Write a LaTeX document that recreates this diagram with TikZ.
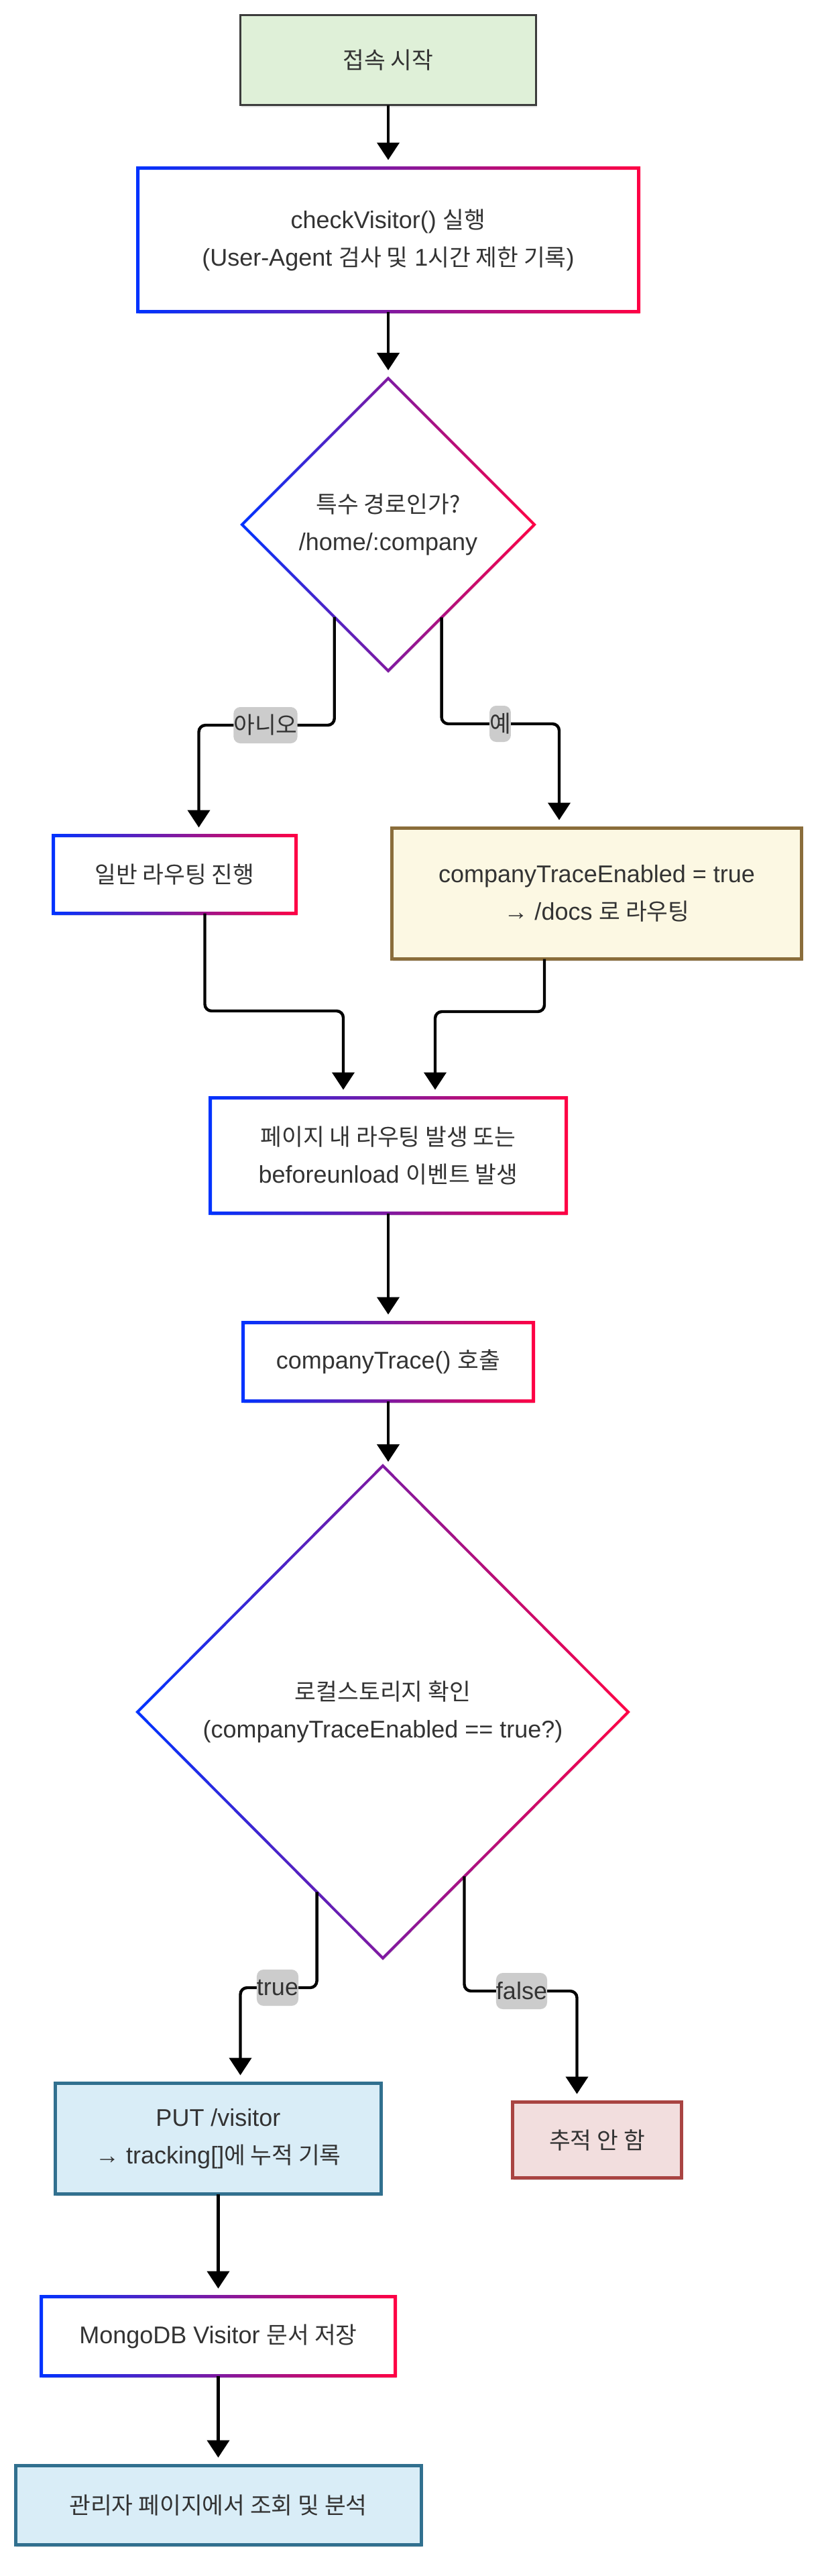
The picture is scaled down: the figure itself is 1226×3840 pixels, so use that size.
\documentclass[tikz,border=0pt]{standalone}
\usepackage{fontspec}
\setmainfont{Liberation Sans}
\newfontfamily\krf[Scale=0.96]{Noto Sans CJK KR}
\usetikzlibrary{arrows.meta,shapes.geometric,shadows,calc}
\definecolor{gblue}{HTML}{0033FF}
\definecolor{gred}{HTML}{FF0044}
\definecolor{textc}{HTML}{333333}
\definecolor{lblgray}{HTML}{CCCCCC}
\definecolor{startfill}{HTML}{DFF0D8}
\definecolor{startdraw}{HTML}{3C3C3C}
\definecolor{warnfill}{HTML}{FCF8E3}
\definecolor{warndraw}{HTML}{8A6D3B}
\definecolor{infofill}{HTML}{D9EDF7}
\definecolor{infodraw}{HTML}{31708F}
\definecolor{dangfill}{HTML}{F2DEDE}
\definecolor{dangdraw}{HTML}{A94442}
\newcommand\gradrect[1]{%
  \shade[even odd rule,left color=gblue,right color=gred]
  ([xshift=-1.25pt,yshift=-1.25pt]#1.south west) rectangle ([xshift=1.25pt,yshift=1.25pt]#1.north east)
  ([xshift=1.25pt,yshift=1.25pt]#1.south west) rectangle ([xshift=-1.25pt,yshift=-1.25pt]#1.north east);}
\newcommand\graddia[1]{%
  \shade[even odd rule,left color=gblue,right color=gred]
  ([yshift=1.41pt]#1.north) -- ([xshift=1.41pt]#1.east) -- ([yshift=-1.41pt]#1.south) -- ([xshift=-1.41pt]#1.west) -- cycle
  ([yshift=-1.41pt]#1.north) -- ([xshift=-1.41pt]#1.east) -- ([yshift=1.41pt]#1.south) -- ([xshift=1.41pt]#1.west) -- cycle;}
\begin{document}
\begin{tikzpicture}[x=0.5pt,y=-0.5pt,
  base/.style={rectangle,inner sep=0pt,outer sep=0pt,align=center,text=textc,
    font=\fontsize{18pt}{28pt}\selectfont,
    drop shadow={shadow xshift=0.5pt,shadow yshift=-1.5pt,fill=black,opacity=0.10}},
  gnode/.style={base,fill=white},
  gdia/.style={base,shape=diamond,fill=white},
  warnbox/.style={base,fill=warnfill,draw=warndraw,line width=2.5pt},
  infobox/.style={base,fill=infofill,draw=infodraw,line width=2.5pt},
  dangbox/.style={base,fill=dangfill,draw=dangdraw,line width=2.5pt},
  startbox/.style={base,fill=startfill,draw=startdraw,line width=1.5pt},
  arr/.style={draw=black,line width=2.2pt,-{Triangle[length=13pt,width=16.5pt]},
    rounded corners=5pt,shorten >=6pt},
  lbl/.style={fill=lblgray,inner xsep=0pt,inner ysep=0pt,minimum height=27pt,
    text=textc,font=\fontsize{18pt}{28pt}\selectfont}
]
\fill[white] (0,0) rectangle (1226,3840);
\useasboundingbox (0,0) rectangle (1226,3840);

% nodes
\node[startbox,minimum width=220.5pt,minimum height=67pt] (start) at (579,89.5) {{\krf 접속 시작}};
\node[gnode,minimum width=373.5pt,minimum height=107pt] (cv) at (579,357.5)
  {checkVisitor() {\krf 실행}\\(User-Agent {\krf 검사 및} 1{\krf 시간 제한 기록})};
\node[gdia,minimum width=218pt,minimum height=218pt] (d1) at (579,782)
  {{\krf 특수 경로인가?}\\/home/:company};
\node[gnode,minimum width=181pt,minimum height=58pt] (box1) at (260.5,1303.5)
  {{\krf 일반 라우팅 진행}};
\node[warnbox,minimum width=305.5pt,minimum height=97.5pt] (box2) at (890,1332)
  {companyTraceEnabled = true\\→ /docs {\krf 로 라우팅}};
\node[gnode,minimum width=265.5pt,minimum height=86pt] (merge) at (579,1722.5)
  {{\krf 페이지 내 라우팅 발생 또는}\\beforeunload {\krf 이벤트 발생}};
\node[gnode,minimum width=216.5pt,minimum height=58.5pt] (ct) at (579,2030)
  {companyTrace() {\krf 호출}};
\node[gdia,minimum width=366pt,minimum height=367pt] (d2) at (571,2552)
  {{\krf 로컬스토리지 확인}\\(companyTraceEnabled == true?)};
\node[infobox,minimum width=243pt,minimum height=82.5pt] (put) at (325.5,3188)
  {PUT /visitor\\→ tracking[]{\krf 에 누적 기록}};
\node[dangbox,minimum width=126pt,minimum height=56.5pt] (notrack) at (890.5,3190)
  {{\krf 추적 안 함}};
\node[gnode,minimum width=264pt,minimum height=59pt] (mongo) at (325.5,3482.5)
  {MongoDB Visitor {\krf 문서 저장}};
\node[infobox,minimum width=302.5pt,minimum height=59pt] (admin) at (325.5,3734.5)
  {{\krf 관리자 페이지에서 조회 및 분석}};

% gradient borders
\gradrect{cv}
\gradrect{box1}
\gradrect{merge}
\gradrect{ct}
\gradrect{mongo}
\graddia{d1}
\graddia{d2}

% connectors
\draw[arr] (start) -- (cv);
\draw[arr] (cv) -- (d1);

\coordinate (d1l) at ($(d1.south)!0.368!(d1.west)$);
\coordinate (d1r) at ($(d1.south)!0.365!(d1.east)$);
\draw[arr] (d1l) |- (396,1081) node[lbl]{{\krf 아니오}} -| ([xshift=18pt]box1.north);
\draw[arr] (d1r) |- (746,1079) node[lbl]{{\krf 예}} -| ([xshift=-28pt]box2.north);

\coordinate (b1s) at ([xshift=22.5pt]box1.south);
\coordinate (b2s) at ([xshift=-39pt]box2.south);
\draw[arr] (b1s) -- (b1s |- 0,1507) -| ([xshift=-33.5pt]merge.north);
\draw[arr] (b2s) -- (b2s |- 0,1508) -| ([xshift=35pt]merge.north);

\draw[arr] (merge) -- (ct);
\draw[arr,shorten >=3pt] (ct) -- (ct.south |- d2.north);

\coordinate (d2l) at ($(d2.south)!0.269!(d2.west)$);
\coordinate (d2r) at ($(d2.south)!0.332!(d2.east)$);
\draw[arr] (d2l) |- (414,2963) node[lbl]{true} -| ([xshift=16.5pt]put.north);
\draw[arr] (d2r) |- (778,2968) node[lbl]{false} -| ([xshift=-15pt]notrack.north);

\draw[arr] (put) -- (mongo);
\draw[arr] (mongo) -- (admin);
\end{tikzpicture}
\end{document}
